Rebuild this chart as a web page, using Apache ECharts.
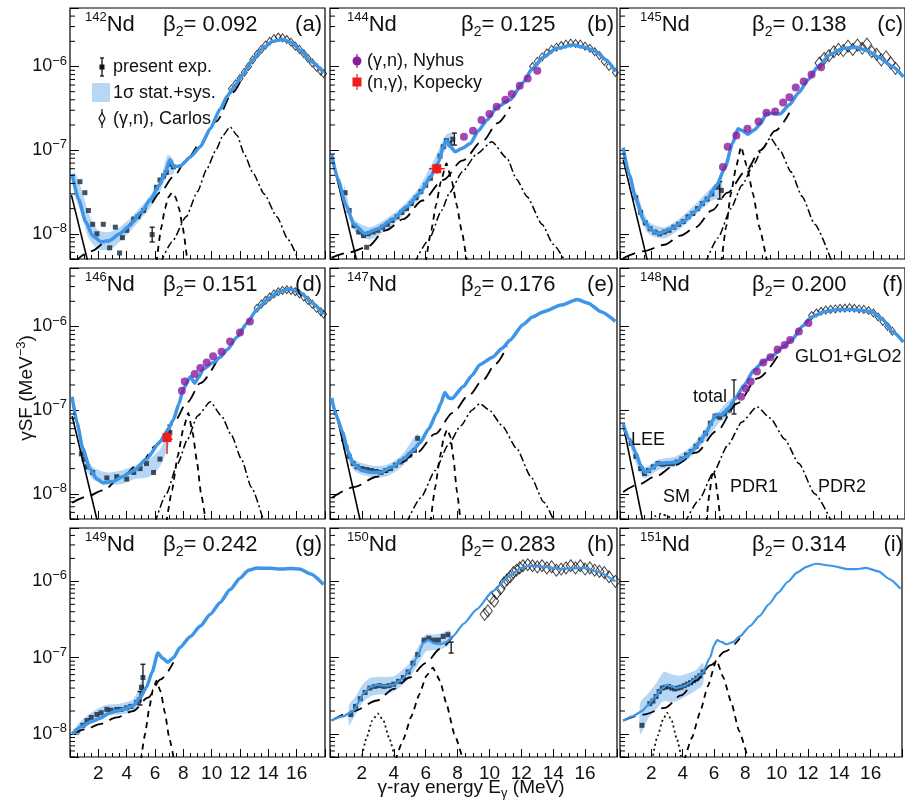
<!DOCTYPE html>
<html><head><meta charset="utf-8">
<script src="https://cdn.jsdelivr.net/npm/echarts@6/dist/echarts.min.js"></script>
<style>html,body{margin:0;padding:0;background:#fff}#c{width:905px;height:805px}</style>
</head><body><div id="c"></div>
<script>
// ---------- labels ----------
const nuclei = ['142','144','145','146','147','148','149','150','151'];
const betas  = ['0.092','0.125','0.138','0.151','0.176','0.200','0.242','0.283','0.314'];
const tags   = ['(a)','(b)','(c)','(d)','(e)','(f)','(g)','(h)','(i)'];
const xTickVals = [0,2,4,6,8,10,12,14,16,18];
const minorTickVals = [5e-9,6e-9,7e-9,8e-9,9e-9,2e-8,3e-8,4e-8,5e-8,6e-8,7e-8,8e-8,9e-8,2e-7,3e-7,4e-7,5e-7,6e-7,7e-7,8e-7,9e-7,2e-6,3e-6,4e-6];

// ---------- (a) 142Nd ----------
const a_total=[[0.15,5.2e-8],[0.6,2.6e-8],[1.1,1.4e-8],[1.6,9.5e-9],[2.2,8e-9],[2.8,8.3e-9],[3.5,1.0e-8],[4.2,1.25e-8],[5.0,1.8e-8],[5.7,2.6e-8],[6.3,3.8e-8],[6.75,5.5e-8],[7.05,7.7e-8],[7.35,6.3e-8],[7.8,6.5e-8],[8.5,8.3e-8],[9.2,1.1e-7],[9.9,1.8e-7],[10.6,3.1e-7],[11.1,4.4e-7],[11.5,5.5e-7],[12.2,8e-7],[12.9,1.2e-6],[13.6,1.65e-6],[14.3,2.0e-6],[15.0,2.1e-6],[15.6,1.95e-6],[16.3,1.55e-6],[17.0,1.15e-6],[17.9,8.5e-7]];
const a_glo=[[0.3,4.6e-9],[1.5,6.2e-9],[2.5,7.8e-9],[3.5,1.0e-8],[4.5,1.4e-8],[5.5,2.1e-8],[6.35,3.1e-8],[7.3,4.8e-8],[8.2,7.5e-8],[9.2,1.2e-7],[10.3,2.2e-7],[11.5,4.9e-7],[12.0,6.5e-7]];
const a_pdr1=[[6.1,4.5e-9],[6.45,1.2e-8],[6.7,2.0e-8],[6.95,2.75e-8],[7.2,3.1e-8],[7.45,2.75e-8],[7.7,2.0e-8],[7.95,1.2e-8],[8.3,4.5e-9]];
const a_pdr2=[[6.4,4.5e-9],[7.2,8e-9],[8.2,1.6e-8],[9.0,3.2e-8],[9.65,5.9e-8],[10.3,1.0e-7],[10.8,1.5e-7],[11.3,1.9e-7],[11.8,1.5e-7],[12.3,9e-8],[12.9,5.4e-8],[13.7,3e-8],[14.6,1.6e-8],[15.4,8.5e-9],[16.2,4.5e-9]];
const a_lee=[[0.1,2.9e-8],[1.4,3.7e-9]];
const a_exp=[[0.7,4.2e-8],[1.05,3.1e-8],[1.3,1.9e-8],[1.6,1.3e-8],[1.9,1.0e-8],[2.35,1.3e-8],[2.8,6.8e-9],[3.2,1.2e-8],[3.5,5.9e-9],[3.7,9e-9],[4.0,1.1e-8],[4.5,1.5e-8],[4.8,1.6e-8],[5.2,1.9e-8],[5.8,9.8e-9],[6.1,3.6e-8],[6.35,4.4e-8],[6.6,4.9e-8],[6.8,5.4e-8],[7.05,6.8e-8],[7.3,6.3e-8]];
const a_band=[[0.3,3e-8,5.5e-8],[0.8,1.8e-8,3.5e-8],[1.3,9e-9,1.8e-8],[2.0,6.5e-9,1.1e-8],[2.8,6.5e-9,1.05e-8],[3.5,8e-9,1.2e-8],[4.2,1.05e-8,1.5e-8],[5.0,1.5e-8,2.1e-8],[5.8,2.2e-8,3.1e-8],[6.4,3.3e-8,4.6e-8],[6.9,5e-8,8.8e-8],[7.3,5.2e-8,7.6e-8]];
const a_err=[[5.8,8e-9,1.2e-8]];
const a_carlos=[[11.4,5.4e-7],[11.7,6.2e-7],[12.0,7.2e-7],[12.3,8.5e-7],[12.6,1.0e-6],[12.9,1.2e-6],[13.2,1.4e-6],[13.5,1.6e-6],[13.8,1.8e-6],[14.1,2.0e-6],[14.4,2.15e-6],[14.7,2.25e-6],[15.0,2.2e-6],[15.3,2.1e-6],[15.6,1.95e-6],[15.9,1.75e-6],[16.2,1.6e-6],[16.5,1.42e-6],[16.8,1.25e-6],[17.1,1.1e-6],[17.4,9.8e-7],[17.7,8.8e-7],[17.9,8.2e-7]];

// ---------- (b) 144Nd ----------
const b_total=[[0.1,8.9e-8],[0.5,4.5e-8],[1.0,2.2e-8],[1.5,1.3e-8],[2.2,1.0e-8],[3.0,1.15e-8],[3.95,1.5e-8],[4.8,2.1e-8],[5.65,3.1e-8],[6.3,4.8e-8],[6.8,7.1e-8],[7.1,1.1e-7],[7.3,1.3e-7],[7.55,1.1e-7],[7.85,9.6e-8],[8.3,1.05e-7],[8.8,1.2e-7],[9.3,1.7e-7],[9.85,2.3e-7],[10.5,3.3e-7],[11.3,4.0e-7],[12.1,6.4e-7],[12.7,9.5e-7],[13.4,1.3e-6],[14.2,1.65e-6],[15.2,1.8e-6],[16.0,1.7e-6],[16.7,1.5e-6],[17.3,1.2e-6],[17.9,8.7e-7]];
const b_glo=[[0.1,5.2e-9],[1.2,6e-9],[2.3,6.9e-9],[3.5,1.1e-8],[4.6,1.5e-8],[5.8,2.5e-8],[7.1,4.4e-8],[8.3,7.5e-8],[9.6,1.3e-7],[10.5,2.1e-7],[11.3,3.3e-7]];
const b_pdr1=[[6.0,4.5e-9],[6.35,1.1e-8],[6.65,2.2e-8],[6.95,4.2e-8],[7.3,7e-8],[7.65,4.2e-8],[7.95,2.2e-8],[8.25,1.1e-8],[8.6,4.5e-9]];
const b_pdr2=[[5.3,4.5e-9],[6.2,8.5e-9],[7.0,1.9e-8],[7.5,3.1e-8],[8.3,5.5e-8],[9.2,9e-8],[10.15,1.26e-7],[11.1,8e-8],[11.7,4.5e-8],[12.35,2.8e-8],[13.3,1.3e-8],[14.0,7.5e-9],[14.8,4.5e-9]];
const b_lee=[[0.1,8.5e-8],[1.8,3.8e-9]];
const b_exp=[[0.95,3.1e-8],[1.2,1.9e-8],[1.5,1.25e-8],[1.8,1.05e-8],[2.1,9.5e-9],[2.3,6.9e-9],[2.4,1.0e-8],[2.7,1.05e-8],[3.0,1.1e-8],[3.3,1.2e-8],[3.6,1.3e-8],[3.9,1.45e-8],[4.2,1.6e-8],[4.5,1.8e-8],[4.8,2.0e-8],[5.1,2.3e-8],[5.4,2.7e-8],[5.7,3.2e-8],[6.0,3.8e-8],[6.3,4.6e-8],[6.6,6.2e-8],[6.9,8.5e-8],[7.1,1.1e-7],[7.3,1.3e-7],[7.5,1.2e-7],[7.7,1.35e-7]];
const b_band=[[0.9,2.6e-8,3.8e-8],[1.5,1.1e-8,1.5e-8],[2.5,8.5e-9,1.2e-8],[3.5,1.1e-8,1.5e-8],[4.5,1.6e-8,2.1e-8],[5.5,2.5e-8,3.4e-8],[6.5,5e-8,7.5e-8],[7.3,1.05e-7,1.55e-7],[7.7,1.1e-7,1.6e-7]];
const b_err=[[7.8,1.15e-7,1.6e-7]];
const b_kopecky=[[6.7,6.0e-8,6.2,7.2,5.2e-8,6.9e-8]];
const b_nyhus=[[8.4,1.45e-7],[8.97,1.7e-7],[9.5,2.3e-7],[10.0,2.7e-7],[10.45,3.3e-7],[11.0,4.0e-7],[11.4,4.7e-7],[11.9,5.9e-7],[12.4,7.2e-7],[13.0,8.9e-7]];
const b_carlos=[[12.7,1.0e-6],[13.0,1.15e-6],[13.3,1.3e-6],[13.6,1.45e-6],[13.9,1.6e-6],[14.2,1.7e-6],[14.5,1.78e-6],[14.8,1.85e-6],[15.1,1.9e-6],[15.4,1.88e-6],[15.7,1.85e-6],[16.0,1.75e-6],[16.3,1.65e-6],[16.6,1.5e-6],[16.9,1.35e-6],[17.2,1.15e-6],[17.5,1.0e-6],[17.9,8.5e-7]];

// ---------- (c) 145Nd ----------
const c_total=[[0.2,1.07e-7],[0.6,5e-8],[1.0,2.6e-8],[1.5,1.45e-8],[2.0,1.1e-8],[2.4,1.0e-8],[3.2,1.15e-8],[4.0,1.4e-8],[4.8,1.9e-8],[5.5,2.6e-8],[6.1,3.8e-8],[6.65,6.3e-8],[7.1,1.2e-7],[7.45,1.8e-7],[7.75,1.7e-7],[8.05,1.55e-7],[8.5,1.75e-7],[8.9,2.1e-7],[9.25,2.75e-7],[9.6,2.75e-7],[10.1,2.7e-7],[10.7,3.5e-7],[11.3,4.9e-7],[11.9,7e-7],[12.5,1.0e-6],[13.3,1.4e-6],[14.1,1.65e-6],[14.9,1.7e-6],[15.6,1.55e-6],[16.3,1.3e-6],[17.2,1.0e-6],[17.9,7.5e-7]];
const c_glo=[[0.2,5.1e-9],[1.5,6.2e-9],[2.8,7.4e-9],[3.8,9.5e-9],[4.8,1.2e-8],[5.8,1.9e-8],[6.8,3.1e-8],[7.9,5.5e-8],[8.9,1.0e-7],[9.8,1.7e-7],[10.7,2.8e-7]];
const c_pdr1=[[6.4,4.5e-9],[6.7,1.2e-8],[7.0,3e-8],[7.35,6.5e-8],[7.65,1.1e-7],[8.0,6.5e-8],[8.4,3e-8],[8.8,1.2e-8],[9.3,4.5e-9]];
const c_pdr2=[[5.4,4.5e-9],[6.2,9e-9],[7.0,2e-8],[7.7,3.8e-8],[8.4,6.5e-8],[9.0,1.05e-7],[9.5,1.4e-7],[10.1,1.0e-7],[10.8,5.5e-8],[11.5,2.8e-8],[12.3,1.3e-8],[13.4,4.5e-9]];
const c_lee=[[0.2,7.7e-8],[1.8,4.2e-9]];
const c_exp=[[1.0,2.7e-8],[1.3,1.8e-8],[1.6,1.35e-8],[1.9,1.15e-8],[2.2,1.05e-8],[2.5,1.0e-8],[2.8,1.05e-8],[3.1,1.1e-8],[3.4,1.2e-8],[3.7,1.3e-8],[4.0,1.4e-8],[4.3,1.6e-8],[4.6,1.75e-8],[4.9,2.0e-8],[5.2,2.3e-8],[5.5,2.6e-8],[5.8,3.0e-8],[6.1,3.6e-8],[6.4,3.3e-8]];
const c_band=[[1.0,2.2e-8,3.2e-8],[1.8,1.0e-8,1.4e-8],[2.8,8.8e-9,1.2e-8],[3.8,1.15e-8,1.55e-8],[4.8,1.7e-8,2.3e-8],[5.8,2.5e-8,3.6e-8],[6.4,2.7e-8,4.4e-8]];
const c_err=[[6.3,2.6e-8,4.2e-8]];
const c_nyhus=[[6.5,6.3e-8],[6.8,1.1e-7],[7.35,1.5e-7],[8.05,1.8e-7],[8.75,2.2e-7],[9.25,2.8e-7],[9.8,2.9e-7],[10.3,3.7e-7],[10.7,4.3e-7],[11.1,5.6e-7],[11.6,6.6e-7],[12.1,8e-7],[12.7,9.8e-7]];
const c_carlos=[[12.6,1.1e-6],[12.9,1.25e-6],[13.2,1.35e-6],[13.5,1.5e-6],[13.8,1.6e-6],[14.1,1.55e-6],[14.4,1.75e-6],[14.7,1.6e-6],[15.0,1.8e-6],[15.3,1.65e-6],[15.6,1.85e-6],[15.9,1.5e-6],[16.2,1.4e-6],[16.5,1.2e-6],[16.8,1.3e-6],[17.1,1.1e-6],[17.4,9.5e-7]];

// ---------- (d) 146Nd ----------
const d_total=[[0.15,1.45e-7],[0.5,7e-8],[0.9,3.5e-8],[1.4,2e-8],[1.9,1.5e-8],[2.35,1.35e-8],[3.0,1.4e-8],[3.7,1.6e-8],[4.5,1.9e-8],[5.4,2.6e-8],[6.35,4.2e-8],[6.9,5.8e-8],[7.3,7.7e-8],[7.7,1.2e-7],[8.0,1.8e-7],[8.5,2.5e-7],[8.8,2.1e-7],[9.1,2.5e-7],[9.4,3.1e-7],[10.1,3.7e-7],[10.6,4.3e-7],[11.1,5.3e-7],[11.8,7.5e-7],[12.5,1.1e-6],[13.2,1.6e-6],[13.9,2.1e-6],[14.7,2.6e-6],[15.5,2.8e-6],[16.3,2.5e-6],[17.1,1.9e-6],[17.9,1.4e-6]];
const d_glo=[[0.15,7.8e-9],[1.2,9.3e-9],[2.35,1.1e-8],[3.6,1.6e-8],[4.95,2.3e-8],[6.1,3.8e-8],[7.3,7.1e-8],[8.3,1.25e-7],[9.2,2.1e-7],[10.4,4e-7]];
const d_pdr1=[[6.8,4.5e-9],[7.2,1.1e-8],[7.6,2.8e-8],[8.0,6e-8],[8.35,9.3e-8],[8.65,5.5e-8],[8.95,2.5e-8],[9.25,1e-8],[9.6,4.5e-9]];
const d_pdr2=[[6.0,4.5e-9],[6.8,1e-8],[7.6,2.3e-8],[8.3,4.5e-8],[9.0,8.5e-8],[9.9,1.26e-7],[10.7,8.5e-8],[11.4,5e-8],[12.1,2.6e-8],[12.8,1.2e-8],[13.7,4.5e-9]];
const d_lee=[[0.15,8.5e-8],[2.0,4.2e-9]];
const d_exp=[[0.8,3e-8],[1.0,2.6e-8],[1.2,2.1e-8],[1.6,1.8e-8],[2.6,1.55e-8],[3.3,1.6e-8],[4.0,1.5e-8],[4.5,1.8e-8],[4.95,2.0e-8],[5.4,2.3e-8],[5.9,1.8e-8],[6.35,2.6e-8],[6.85,4.5e-8],[7.05,5.4e-8]];
const d_band=[[0.8,2.5e-8,3.7e-8],[1.6,1.5e-8,2.1e-8],[2.6,1.3e-8,1.8e-8],[3.6,1.3e-8,1.9e-8],[4.6,1.5e-8,2.2e-8],[5.6,1.6e-8,2.6e-8],[6.4,2.2e-8,3.5e-8],[7.05,4.3e-8,6.5e-8]];
const d_err=[[7.05,4.5e-8,6.6e-8]];
const d_kopecky=[[6.85,4.7e-8,6.6,7.1,3.0e-8,5.5e-8]];
const d_nyhus=[[7.9,1.7e-7],[8.1,2.2e-7],[8.8,2.7e-7],[9.2,3.2e-7],[9.65,3.7e-7],[10.1,4.4e-7],[10.7,5e-7],[11.3,6.6e-7],[12.0,8.5e-7],[12.7,1.15e-6]];
const d_carlos=[[13.2,1.65e-6],[13.5,1.85e-6],[13.8,2.05e-6],[14.1,2.25e-6],[14.4,2.45e-6],[14.7,2.6e-6],[15.0,2.7e-6],[15.3,2.75e-6],[15.6,2.7e-6],[15.9,2.6e-6],[16.2,2.45e-6],[16.5,2.25e-6],[16.8,2.05e-6],[17.1,1.85e-6],[17.4,1.65e-6],[17.7,1.5e-6],[17.9,1.4e-6]];

// ---------- (e) 147Nd ----------
const e_total=[[0.1,1.4e-7],[0.4,8.5e-8],[0.8,5.4e-8],[1.1,3.3e-8],[1.45,2.3e-8],[2.0,1.9e-8],[2.6,1.8e-8],[3.15,1.8e-8],[3.9,2.1e-8],[4.6,2.6e-8],[5.2,3.3e-8],[5.65,4.1e-8],[6.2,6e-8],[6.7,9.3e-8],[6.95,1.2e-7],[7.2,1.62e-7],[7.45,1.4e-7],[7.65,1.38e-7],[8.35,1.9e-7],[8.9,2.6e-7],[9.4,3.5e-7],[10.2,4.3e-7],[10.8,5.5e-7],[11.3,6.9e-7],[12.1,1.05e-6],[12.7,1.3e-6],[13.4,1.5e-6],[14.5,1.8e-6],[15.5,2.1e-6],[16.2,1.9e-6],[17.0,1.5e-6],[17.9,1.15e-6]];
const e_glo=[[0.1,8.9e-9],[1.5,1.2e-8],[2.95,1.6e-8],[4.2,2.2e-8],[5.45,3.1e-8],[6.6,5.2e-8],[7.7,9.3e-8],[8.7,1.5e-7],[9.6,2.3e-7],[10.4,3.6e-7],[11.1,5.8e-7]];
const e_pdr1=[[6.3,4.5e-9],[6.6,1.2e-8],[6.9,2.8e-8],[7.15,4.8e-8],[7.35,5.9e-8],[7.55,4.8e-8],[7.75,2.6e-8],[7.95,1.1e-8],[8.2,4.5e-9]];
const e_pdr2=[[4.8,4.5e-9],[5.7,9e-9],[6.6,1.9e-8],[7.4,3.8e-8],[8.2,6.5e-8],[8.9,1.0e-7],[9.4,1.2e-7],[10.0,1.0e-7],[10.8,6.5e-8],[11.7,3.5e-8],[12.6,1.6e-8],[13.4,8e-9],[14.1,4.5e-9]];
const e_lee=[[0.35,1.0e-7],[2.0,3.9e-9]];
const e_exp=[[0.85,4.5e-8],[1.0,3.6e-8],[1.2,2.8e-8],[1.45,2.3e-8],[1.7,2.1e-8],[2.0,2.0e-8],[2.3,1.95e-8],[2.6,1.9e-8],[2.9,1.85e-8],[3.2,1.8e-8],[3.5,1.9e-8],[3.8,2.0e-8],[4.1,2.2e-8],[4.4,2.4e-8],[4.7,2.6e-8],[5.0,2.9e-8],[5.3,3.3e-8],[5.5,4.6e-8]];
const e_band=[[0.85,3.8e-8,5.4e-8],[1.5,1.9e-8,2.6e-8],[2.5,1.6e-8,2.2e-8],[3.5,1.6e-8,2.2e-8],[4.5,2.1e-8,2.9e-8],[5.5,3.7e-8,5.3e-8]];

// ---------- (f) 148Nd ----------
const f_total=[[0.2,6.8e-8],[0.6,4.5e-8],[1.0,3.1e-8],[1.3,2.2e-8],[1.6,1.8e-8],[2.0,2.0e-8],[2.4,2.3e-8],[3.0,2.35e-8],[3.6,2.4e-8],[4.2,2.8e-8],[4.65,3.4e-8],[5.05,4.2e-8],[5.45,5.4e-8],[5.8,7.3e-8],[6.05,8.9e-8],[6.45,8.9e-8],[6.85,1.05e-7],[7.25,1.35e-7],[7.85,2.0e-7],[8.45,3.0e-7],[9.05,3.8e-7],[9.65,4.5e-7],[10.25,5.6e-7],[10.85,6.9e-7],[11.5,1.0e-6],[12.1,1.3e-6],[12.9,1.5e-6],[13.8,1.6e-6],[14.7,1.6e-6],[15.9,1.5e-6],[16.6,1.2e-6],[17.2,8.7e-7],[17.9,6.5e-7]];
const f_glo=[[0.2,1.05e-8],[1.2,1.3e-8],[2.2,1.6e-8],[3.5,2.2e-8],[4.8,3.1e-8],[6.1,5.6e-8],[7.4,1.2e-7],[8.7,2.4e-7],[10.1,4.9e-7]];
const f_pdr1=[[5.45,4.5e-9],[5.65,1.0e-8],[5.8,1.6e-8],[5.9,1.9e-8],[6.0,1.6e-8],[6.15,1.0e-8],[6.35,4.5e-9]];
const f_pdr2=[[4.1,4.5e-9],[5.0,8.5e-9],[5.9,1.8e-8],[6.8,3.8e-8],[7.7,7.2e-8],[8.65,1.1e-7],[9.5,8e-8],[10.4,4.5e-8],[11.3,2.3e-8],[12.3,1.0e-8],[13.4,4.5e-9]];
const f_sm=[[1.7,4.5e-9],[2.2,5.4e-9],[2.6,5.8e-9],[3.0,5.4e-9],[3.5,4.5e-9]];
const f_lee=[[0.2,6.7e-8],[1.5,4.1e-9]];
const f_exp=[[0.7,4e-8],[1.0,2.8e-8],[1.3,2.0e-8],[1.55,1.75e-8],[1.8,1.9e-8],[2.1,2.1e-8],[2.4,2.3e-8],[2.7,2.25e-8],[3.0,2.3e-8],[3.3,2.3e-8],[3.6,2.4e-8],[3.9,2.6e-8],[4.2,2.9e-8],[4.5,3.2e-8],[4.8,3.7e-8],[5.1,4.4e-8],[5.4,5.3e-8],[5.7,7e-8],[6.0,8.5e-8],[6.3,8.2e-8],[6.6,9e-8],[6.9,1.0e-7],[7.1,1.15e-7]];
const f_band=[[0.7,3.4e-8,4.7e-8],[1.5,1.55e-8,2.1e-8],[2.5,1.95e-8,2.6e-8],[3.5,2.1e-8,2.8e-8],[4.5,2.8e-8,3.7e-8],[5.5,4.6e-8,6.4e-8],[6.3,7.2e-8,1.0e-7],[7.1,1.0e-7,1.4e-7]];
const f_err=[[7.2,9e-8,2.3e-7]];
const f_nyhus=[[7.65,1.45e-7],[7.95,1.8e-7],[8.25,2.2e-7],[8.65,2.9e-7],[9.05,3.7e-7],[9.5,4.3e-7],[9.95,5.3e-7],[10.4,6e-7],[10.75,6.9e-7],[11.3,8.7e-7],[11.9,1.1e-6]];
const f_carlos=[[12.1,1.35e-6],[12.4,1.45e-6],[12.7,1.52e-6],[13.0,1.57e-6],[13.3,1.6e-6],[13.6,1.62e-6],[13.9,1.65e-6],[14.2,1.66e-6],[14.5,1.68e-6],[14.8,1.65e-6],[15.1,1.62e-6],[15.4,1.6e-6],[15.7,1.55e-6],[16.0,1.45e-6],[16.3,1.3e-6],[16.6,1.15e-6],[16.9,1.0e-6],[17.2,8.8e-7]];

// ---------- (g) 149Nd ----------
const g_total=[[0.15,1.0e-8],[0.8,1.25e-8],[1.5,1.45e-8],[2.1,1.6e-8],[2.7,1.85e-8],[3.3,2.0e-8],[3.9,2.15e-8],[4.45,2.35e-8],[4.95,3.0e-8],[5.4,4.1e-8],[5.8,6.5e-8],[6.2,1.15e-7],[6.55,9.8e-8],[6.9,8.7e-8],[7.3,1.0e-7],[7.75,1.35e-7],[8.5,1.9e-7],[9.2,2.6e-7],[9.9,3.7e-7],[10.6,5.3e-7],[11.3,7.8e-7],[12.0,1.1e-6],[12.6,1.4e-6],[13.2,1.5e-6],[14.1,1.48e-6],[15.0,1.45e-6],[15.6,1.47e-6],[16.2,1.45e-6],[17.0,1.25e-6],[17.9,9.1e-7]];
const g_glo=[[0.15,1.0e-8],[1.1,1.15e-8],[2.1,1.35e-8],[3.3,1.65e-8],[4.45,2.0e-8],[5.5,3.0e-8],[6.4,5.2e-8],[7.3,8.7e-8]];
const g_pdr1=[[5.0,4.5e-9],[5.3,1.0e-8],[5.6,2.2e-8],[5.85,3.8e-8],[6.1,5.0e-8],[6.4,3.6e-8],[6.7,1.9e-8],[7.0,9e-9],[7.35,4.5e-9]];
const g_exp=[[0.5,1.1e-8],[0.9,1.3e-8],[1.2,1.5e-8],[1.5,1.65e-8],[1.9,1.8e-8],[2.2,1.9e-8],[2.6,2.1e-8],[2.9,2.05e-8],[3.3,2.1e-8],[3.6,2.1e-8],[4.0,2.2e-8],[4.3,2.3e-8],[4.7,2.6e-8],[4.9,2.8e-8],[5.05,4.1e-8],[5.15,5.5e-8]];
const g_band=[[0.5,9.5e-9,1.3e-8],[1.5,1.45e-8,1.9e-8],[2.5,1.8e-8,2.4e-8],[3.5,1.8e-8,2.5e-8],[4.5,2.0e-8,2.9e-8],[5.1,3.3e-8,5.2e-8]];
const g_err=[[5.15,3.8e-8,8.2e-8],[4.95,2.4e-8,3.6e-8]];

// ---------- (h) 150Nd ----------
const h_total=[[0.1,1.5e-8],[0.8,1.7e-8],[1.45,2.0e-8],[1.8,2.6e-8],[2.1,3.4e-8],[2.5,4.1e-8],[2.95,4.4e-8],[3.5,4.3e-8],[3.95,4.4e-8],[4.5,5.2e-8],[5.0,6.8e-8],[5.45,1.0e-7],[5.85,1.55e-7],[6.15,1.7e-7],[6.5,1.55e-7],[6.9,1.5e-7],[7.3,1.6e-7],[7.7,1.9e-7],[8.4,2.8e-7],[9.2,4.3e-7],[10.2,7.4e-7],[11.3,1.2e-6],[12.0,1.5e-6],[12.5,1.6e-6],[13.5,1.55e-6],[14.4,1.45e-6],[15.2,1.48e-6],[15.9,1.5e-6],[16.7,1.35e-6],[17.9,1.0e-6]];
const h_glo=[[0.1,1.5e-8],[1.5,2.0e-8],[2.95,2.75e-8],[4.0,3.9e-8],[5.0,5.5e-8],[6.0,8.5e-8],[6.9,1.3e-7],[7.7,1.9e-7]];
const h_pdr1=[[4.1,4.5e-9],[4.6,8.5e-9],[5.1,1.7e-8],[5.6,3.3e-8],[6.05,5.8e-8],[6.45,7.4e-8],[6.9,5e-8],[7.3,2.5e-8],[7.8,1.0e-8],[8.35,4.5e-9]];
const h_sm=[[1.95,4.5e-9],[2.3,9e-9],[2.65,1.5e-8],[3.0,1.85e-8],[3.35,1.5e-8],[3.7,9e-9],[4.1,4.5e-9]];
const h_exp=[[1.3,1.8e-8],[1.6,2.3e-8],[1.9,2.9e-8],[2.2,3.5e-8],[2.5,4.0e-8],[2.8,4.2e-8],[3.1,4.3e-8],[3.4,4.2e-8],[3.7,4.3e-8],[4.0,4.5e-8],[4.3,4.9e-8],[4.6,5.5e-8],[4.9,6.5e-8],[5.2,8.5e-8],[5.5,1.1e-7],[5.9,1.7e-7],[6.2,1.8e-7],[6.5,1.7e-7],[6.8,1.7e-7],[7.1,1.9e-7],[7.4,2.0e-7]];
const h_band=[[1.2,1.3e-8,2.4e-8],[1.6,1.8e-8,3.1e-8],[2.0,2.5e-8,4.3e-8],[2.5,3.1e-8,5.4e-8],[3.0,3.3e-8,5.6e-8],[3.5,3.3e-8,5.6e-8],[4.0,3.6e-8,5.7e-8],[4.5,4.3e-8,6.8e-8],[5.0,5.5e-8,8.5e-8],[5.5,8e-8,1.35e-7],[6.0,1.2e-7,2.0e-7],[6.5,1.25e-7,2.0e-7],[7.0,1.3e-7,2.1e-7],[7.5,1.5e-7,2.3e-7]];
const h_err=[[7.6,1.15e-7,1.6e-7]];
const h_carlos=[[9.7,3.7e-7],[9.9,4.1e-7],[10.1,6.0e-7],[10.3,5.5e-7],[10.45,7e-7],[10.7,8e-7],[10.9,9.5e-7],[11.1,1.05e-6],[11.3,1.15e-6],[11.5,1.3e-6],[11.7,1.4e-6],[11.9,1.5e-6],[12.1,1.6e-6],[12.4,1.65e-6],[12.7,1.6e-6],[13.0,1.55e-6],[13.3,1.6e-6],[13.6,1.5e-6],[13.9,1.55e-6],[14.2,1.4e-6],[14.5,1.45e-6],[14.8,1.5e-6],[15.1,1.6e-6],[15.4,1.5e-6],[15.7,1.6e-6],[16.0,1.45e-6],[16.3,1.5e-6],[16.6,1.4e-6],[16.9,1.35e-6],[17.2,1.3e-6],[17.5,1.15e-6],[17.9,1.0e-6]];

// ---------- (i) 151Nd ----------
const i_total=[[0.2,1.5e-8],[0.8,1.7e-8],[1.4,2.0e-8],[1.8,2.4e-8],[2.2,3.0e-8],[2.6,3.8e-8],[3.0,4.4e-8],[3.3,4.2e-8],[3.6,4.0e-8],[4.0,4.2e-8],[4.4,4.6e-8],[4.8,5.3e-8],[5.25,6.3e-8],[5.75,1.0e-7],[6.0,1.45e-7],[6.2,1.7e-7],[6.5,1.6e-7],[6.8,1.5e-7],[7.2,1.6e-7],[7.65,1.9e-7],[8.3,2.6e-7],[8.9,3.5e-7],[9.5,5e-7],[10.1,7.1e-7],[10.7,9.8e-7],[11.3,1.3e-6],[11.9,1.55e-6],[12.5,1.7e-6],[13.5,1.6e-6],[14.5,1.45e-6],[15.1,1.45e-6],[15.7,1.5e-6],[16.5,1.35e-6],[17.2,1.07e-6],[17.9,8e-7]];
const i_glo=[[0.2,1.5e-8],[1.5,1.8e-8],[2.85,2.2e-8],[3.9,3.2e-8],[4.85,5e-8],[5.8,8e-8],[6.7,1.2e-7],[7.65,1.8e-7]];
const i_pdr1=[[4.1,4.5e-9],[4.6,9e-9],[5.1,1.9e-8],[5.6,4.2e-8],[6.15,9.3e-8],[6.6,5.5e-8],[7.1,2.6e-8],[7.6,1.1e-8],[8.2,4.5e-9]];
const i_sm=[[2.05,4.5e-9],[2.4,9.5e-9],[2.75,1.55e-8],[3.0,1.9e-8],[3.3,1.5e-8],[3.6,9e-9],[3.95,4.5e-9]];
const i_exp=[[1.4,1.3e-8],[1.9,2.5e-8],[2.1,2.7e-8],[2.3,3.1e-8],[2.5,3.6e-8],[2.7,4.0e-8],[2.9,4.1e-8],[3.1,4.2e-8],[3.3,4.0e-8],[3.5,3.9e-8],[3.7,4.0e-8],[3.9,4.1e-8],[4.1,4.3e-8],[4.3,4.5e-8],[4.5,4.7e-8],[4.7,5.0e-8],[4.9,5.4e-8],[5.1,5.8e-8],[5.3,6.5e-8]];
const i_band=[[1.3,1.0e-8,2.6e-8],[1.8,1.6e-8,3.4e-8],[2.3,2.1e-8,4.6e-8],[2.8,2.7e-8,6.5e-8],[3.3,2.6e-8,6e-8],[3.8,2.8e-8,5.8e-8],[4.3,3.2e-8,6.2e-8],[4.8,3.7e-8,6.8e-8],[5.3,4.5e-8,8.5e-8]];

// ---------- panel assembly ----------
const panels = [
 {total:a_total,glo:a_glo,pdr1:a_pdr1,pdr2:a_pdr2,lee:a_lee,exp:a_exp,band:a_band,err:a_err,carlos:a_carlos,dsz:[6,8]},
 {total:b_total,glo:b_glo,pdr1:b_pdr1,pdr2:b_pdr2,lee:b_lee,exp:b_exp,band:b_band,err:b_err,kop:b_kopecky,nyhus:b_nyhus,carlos:b_carlos,dsz:[6,8]},
 {total:c_total,glo:c_glo,pdr1:c_pdr1,pdr2:c_pdr2,lee:c_lee,exp:c_exp,band:c_band,err:c_err,nyhus:c_nyhus,carlos:c_carlos,dsz:[9,12]},
 {total:d_total,glo:d_glo,pdr1:d_pdr1,pdr2:d_pdr2,lee:d_lee,exp:d_exp,band:d_band,err:d_err,kop:d_kopecky,nyhus:d_nyhus,carlos:d_carlos,dsz:[6,8]},
 {total:e_total,glo:e_glo,pdr1:e_pdr1,pdr2:e_pdr2,lee:e_lee,exp:e_exp,band:e_band},
 {total:f_total,glo:f_glo,pdr1:f_pdr1,pdr2:f_pdr2,lee:f_lee,sm:f_sm,exp:f_exp,band:f_band,err:f_err,nyhus:f_nyhus,carlos:f_carlos,dsz:[6,8]},
 {total:g_total,glo:g_glo,pdr1:g_pdr1,exp:g_exp,band:g_band,err:g_err},
 {total:h_total,glo:h_glo,pdr1:h_pdr1,sm:h_sm,exp:h_exp,band:h_band,err:h_err,carlos:h_carlos,dsz:[9,12],thin:true},
 {total:i_total,glo:i_glo,pdr1:i_pdr1,sm:i_sm,exp:i_exp,band:i_band,thin:true}
];

const FONT = "'Liberation Sans', Arial, Helvetica, sans-serif";
const cols = [{l:70,w:255},{l:330,w:287},{l:620,w:298}];
const rows = [{t:8,h:251},{t:268,h:251},{t:528,h:229}];
const BLUE = '#3d96e6';

const grid=[], xAxis=[], yAxis=[], series=[];
function isDecade(v){ const l=Math.log10(v); return Math.abs(l-Math.round(l))<1e-6; }

function bandRender(arr){
  return function(params, api){
    if (params.dataIndex!==0) return;
    const up=[], lo=[];
    for (const d of arr){ up.push(api.coord([d[0],d[2]])); lo.push(api.coord([d[0],d[1]])); }
    return {type:'polygon', shape:{points: up.concat(lo.reverse()), smooth:0.25}, style:{fill:'#a9cff4', opacity:0.85}};
  };
}
function errRender(params, api){
  const x=api.value(0), a=api.coord([x,api.value(1)]), b=api.coord([x,api.value(2)]);
  const st={stroke:'#111', lineWidth:1.3};
  return {type:'group', children:[
    {type:'line', shape:{x1:a[0],y1:a[1],x2:b[0],y2:b[1]}, style:st},
    {type:'line', shape:{x1:a[0]-2.5,y1:a[1],x2:a[0]+2.5,y2:a[1]}, style:st},
    {type:'line', shape:{x1:b[0]-2.5,y1:b[1],x2:b[0]+2.5,y2:b[1]}, style:st}]};
}
function kopRender(params, api){
  const x=api.value(0), y=api.value(1);
  const c=api.coord([x,y]), l=api.coord([api.value(2),y]), r=api.coord([api.value(3),y]);
  const lo=api.coord([x,api.value(4)]), hi=api.coord([x,api.value(5)]);
  const st={stroke:'#ee1c1c', lineWidth:1.4};
  return {type:'group', children:[
    {type:'line', shape:{x1:l[0],y1:l[1],x2:r[0],y2:r[1]}, style:st},
    {type:'line', shape:{x1:lo[0],y1:lo[1],x2:hi[0],y2:hi[1]}, style:st},
    {type:'rect', shape:{x:c[0]-4.5,y:c[1]-4.5,width:9,height:9}, style:{fill:'#ee1c1c'}}]};
}
function minorTickRender(params, api){
  const p=api.coord([0, api.value(1)]);
  return {type:'line', shape:{x1:p[0],y1:p[1],x2:p[0]+5,y2:p[1]}, style:{stroke:'#000', lineWidth:1}};
}
function lineSeries(i, data, style, z, sm){
  return {type:'line', xAxisIndex:i, yAxisIndex:i, data, showSymbol:false, smooth:sm, smoothMonotone:'x',
    lineStyle:style, z, silent:true, clip:true};
}

panels.forEach((p,i)=>{
  const r=Math.floor(i/3), c=i%3;
  grid.push({left:cols[c].l, top:rows[r].t, width:cols[c].w, height:rows[r].h, show:true, borderColor:'#000', borderWidth:1.2, backgroundColor:'transparent'});
  xAxis.push({gridIndex:i, type:'value', min:0, max:18, interval:2,
    axisLine:{show:false}, splitLine:{show:false},
    axisTick:{show:true, inside:true, length:8, lineStyle:{color:'#000', width:1}},
    minorTick:{show:true, splitNumber:4, length:4, lineStyle:{color:'#000', width:1}},
    axisLabel:{show:r===2, margin:7, fontSize:19, color:'#111', fontFamily:FONT,
      formatter:v=> (xTickVals.indexOf(v)>0 && v<18) ? String(v) : ''}});
  yAxis.push({gridIndex:i, type:'log', logBase:10, min:5e-9, max:5e-6,
    axisLine:{show:false}, splitLine:{show:false},
    axisTick:{show:true, inside:true, length:9, lineStyle:{color:'#000', width:1}},
    axisLabel:{show:c===0, margin:3, fontFamily:FONT,
      formatter:v=> isDecade(v) ? '{b|10}{e|−'+(-Math.round(Math.log10(v)))+'}' : '',
      rich:{b:{fontSize:18, color:'#111', fontFamily:FONT, lineHeight:24}, e:{fontSize:13, color:'#111', fontFamily:FONT, verticalAlign:'top', lineHeight:16}}}});

  series.push({type:'custom', xAxisIndex:i, yAxisIndex:i, data:minorTickVals.map(v=>[0,v]), renderItem:minorTickRender, silent:true, z:10, clip:false});
  if (p.band) series.push({type:'custom', xAxisIndex:i, yAxisIndex:i, data:p.band, encode:{x:0,y:[1,2]}, renderItem:bandRender(p.band), silent:true, z:1});
  if (p.carlos) series.push({type:'scatter', xAxisIndex:i, yAxisIndex:i, data:p.carlos, symbol:'diamond', symbolSize:p.dsz,
    itemStyle:{color:'rgba(255,255,255,0)', borderColor:'#111', borderWidth:1}, z:2, silent:true});
  if (p.exp) series.push({type:'scatter', xAxisIndex:i, yAxisIndex:i, data:p.exp, symbol:'rect', symbolSize:5, itemStyle:{color:'#15263a'}, z:3, silent:true});
  if (p.err) series.push({type:'custom', xAxisIndex:i, yAxisIndex:i, data:p.err, encode:{x:0,y:[1,2]}, renderItem:errRender, z:3, silent:true});
  if (p.lee) series.push(lineSeries(i, p.lee, {color:'#000', width:1.6, type:'solid'}, 4, false));
  if (p.sm) series.push(lineSeries(i, p.sm, {color:'#111', width:1.8, type:[2,3]}, 4, 0.2));
  if (p.glo) series.push(lineSeries(i, p.glo, {color:'#000', width:1.8, type:[13,7]}, 4, 0.3));
  if (p.pdr1) series.push(lineSeries(i, p.pdr1, {color:'#000', width:1.8, type:[6,5]}, 4, 0.15));
  if (p.pdr2) series.push(lineSeries(i, p.pdr2, {color:'#000', width:1.5, type:[8,3,2,3]}, 4, 0.2));
  series.push(lineSeries(i, p.total, {color:BLUE, width:p.thin?2.2:3.5, type:'solid'}, 5, 0.2));
  if (p.nyhus) series.push({type:'scatter', xAxisIndex:i, yAxisIndex:i, data:p.nyhus, symbol:'circle', symbolSize:8, itemStyle:{color:'#8a1c9c'}, z:6, silent:true});
  if (p.kop) series.push({type:'custom', xAxisIndex:i, yAxisIndex:i, data:p.kop, encode:{x:0,y:1}, renderItem:kopRender, z:7, silent:true});
});

// ---------- texts ----------
const nucX=[85,347,640], betaX=[163,461,752], tagR=[322,614,903], rowY=[25,285,545];
const graphic=[];
function txt(x,y,text,rich,align,size){
  return {type:'text', x, y, silent:true, z:20, style:{text, rich, fontFamily:FONT, fontSize:size||18, fill:'#111',
    align:align||'left', verticalAlign:'middle', textAlign:align||'left', textVerticalAlign:'middle'}};
}
const richHead={s:{fontSize:13, fontFamily:FONT, fill:'#111', verticalAlign:'top', lineHeight:14}, n:{fontSize:22, fontFamily:FONT, fill:'#111', lineHeight:28}, u:{fontSize:14, fontFamily:FONT, fill:'#111', verticalAlign:'bottom', lineHeight:14}};
panels.forEach((p,i)=>{
  const r=Math.floor(i/3), c=i%3;
  graphic.push(txt(nucX[c], rowY[r], '{s|'+nuclei[i]+'}{n|Nd}', richHead));
  graphic.push(txt(betaX[c], rowY[r], '{n|β}{u|2}{n|= '+betas[i]+'}', richHead));
  graphic.push(txt(tagR[c], rowY[r], '{n|'+tags[i]+'}', richHead, 'right'));
});
// legend (a)
graphic.push({type:'group', silent:true, z:20, children:[
  {type:'line', shape:{x1:102,y1:58,x2:102,y2:76}, style:{stroke:'#111', lineWidth:1.3}},
  {type:'line', shape:{x1:100,y1:58,x2:104,y2:58}, style:{stroke:'#111', lineWidth:1.3}},
  {type:'line', shape:{x1:100,y1:76,x2:104,y2:76}, style:{stroke:'#111', lineWidth:1.3}},
  {type:'rect', shape:{x:99.5,y:64.5,width:5,height:5}, style:{fill:'#111'}},
  {type:'rect', shape:{x:92,y:83,width:18,height:19}, style:{fill:'#b7d7f6'}},
  {type:'line', shape:{x1:102,y1:109,x2:102,y2:128}, style:{stroke:'#111', lineWidth:1.2}},
  {type:'polygon', shape:{points:[[102,113],[105,118.5],[102,124],[99,118.5]]}, style:{fill:'#fff', stroke:'#111', lineWidth:1.2}},
  {type:'circle', shape:{cx:357,cy:61,r:4.5}, style:{fill:'#8a1c9c'}},
  {type:'line', shape:{x1:357,y1:54,x2:357,y2:68}, style:{stroke:'#8a1c9c', lineWidth:1.2}},
  {type:'rect', shape:{x:352.5,y:77.5,width:9,height:9}, style:{fill:'#ee1c1c'}},
  {type:'line', shape:{x1:357,y1:74,x2:357,y2:90}, style:{stroke:'#ee1c1c', lineWidth:1.2}}
]});
graphic.push(txt(113,67,'present exp.',null,'left',18));
graphic.push(txt(113,93,'1σ stat.+sys.',null,'left',18));
graphic.push(txt(113,119,'(γ,n), Carlos',null,'left',18));
graphic.push(txt(367,61,'(γ,n), Nyhus',null,'left',18));
graphic.push(txt(367,83,'(n,γ), Kopecky',null,'left',18));
// annotations (f)
graphic.push(txt(795,357,'GLO1+GLO2',null,'left',18));
graphic.push(txt(693,397,'total',null,'left',18));
graphic.push(txt(631,440,'LEE',null,'left',18));
graphic.push(txt(663,497,'SM',null,'left',18));
graphic.push(txt(730,487,'PDR1',null,'left',18));
graphic.push(txt(818,487,'PDR2',null,'left',18));
// axis titles
graphic.push(txt(471,788,'{n|γ-ray energy E}{u|γ}{n| (MeV)}',{n:{fontSize:19,fontFamily:FONT,fill:'#111',lineHeight:24},u:{fontSize:13,fontFamily:FONT,fill:'#111',verticalAlign:'bottom',lineHeight:13}},'center'));
graphic.push({type:'text', x:27, y:388, rotation:Math.PI/2, silent:true, z:20,
  style:{text:'{n|γSF (MeV}{s|−3}{n|)}', rich:{n:{fontSize:19,fontFamily:FONT,fill:'#111',lineHeight:24},s:{fontSize:13,fontFamily:FONT,fill:'#111',verticalAlign:'top',lineHeight:14}},
    align:'center', verticalAlign:'middle', textAlign:'center', textVerticalAlign:'middle'}});

const chart = echarts.init(document.getElementById('c'), null, {renderer:'canvas'});
chart.setOption({animation:false, backgroundColor:'#fff', grid, xAxis, yAxis, series, graphic});
</script></body></html>
